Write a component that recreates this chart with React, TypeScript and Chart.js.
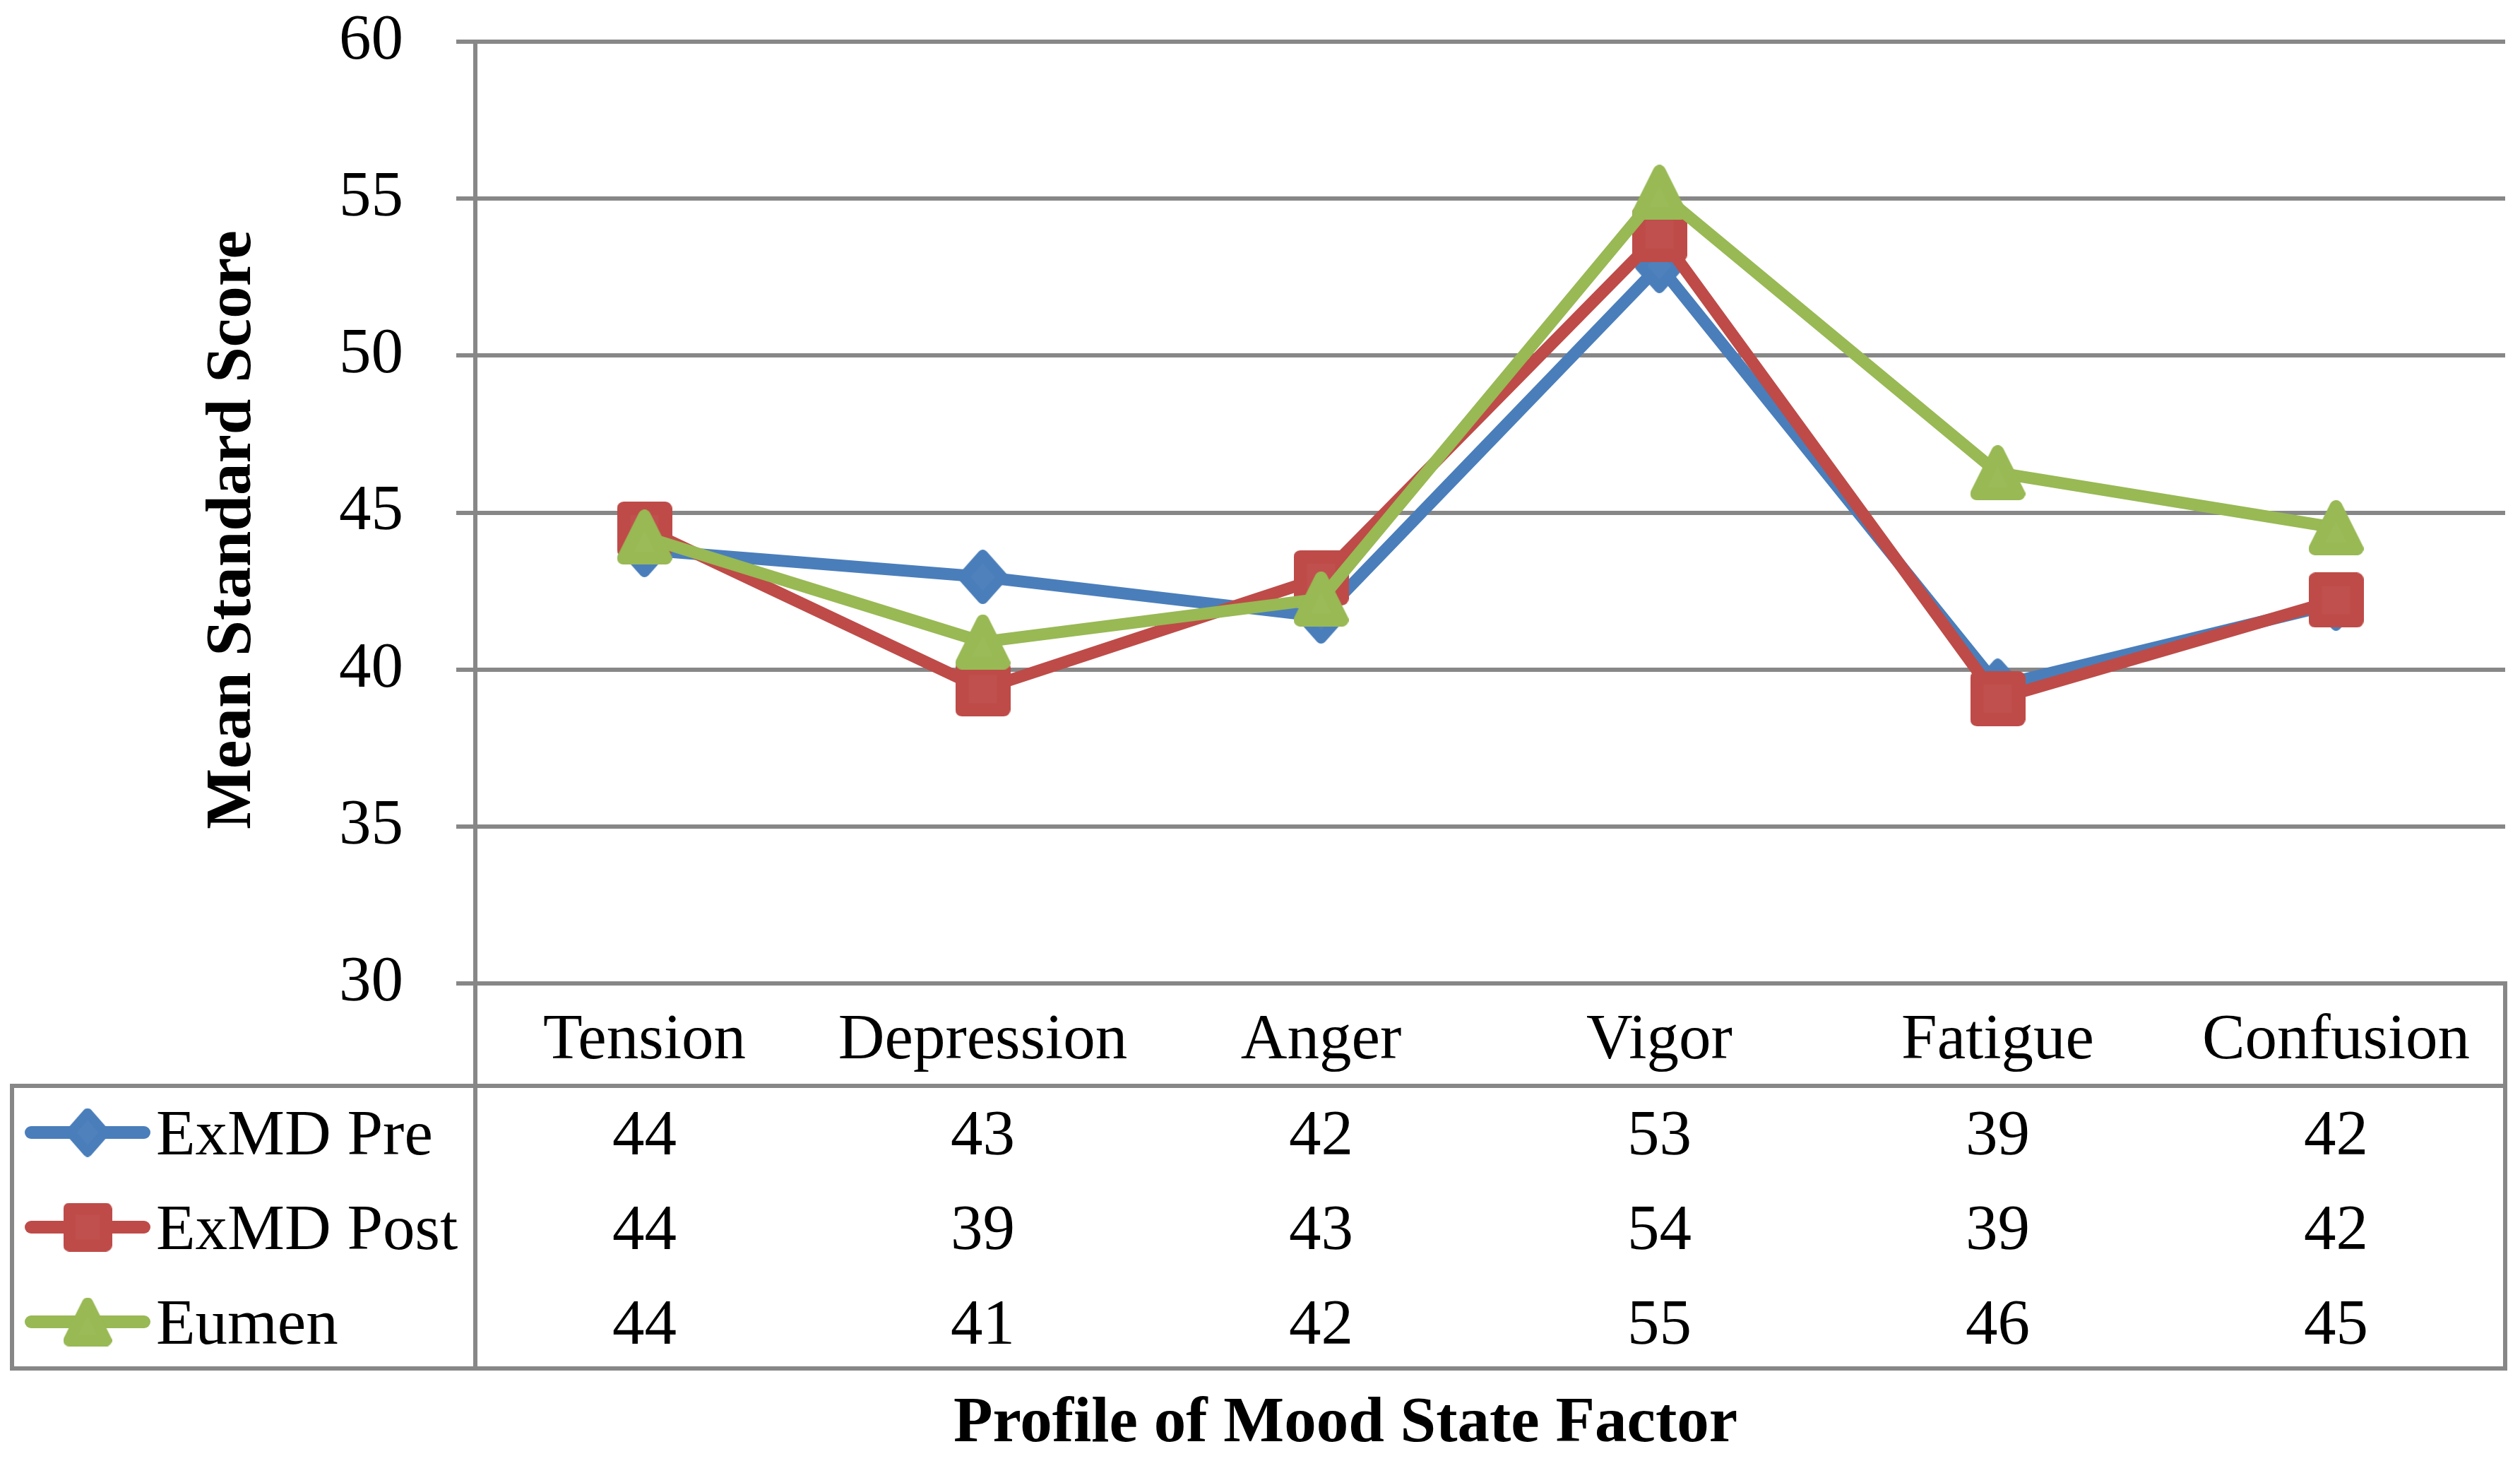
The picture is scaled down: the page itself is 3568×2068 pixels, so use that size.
import React, { useEffect, useRef } from 'react';
import { Chart, registerables } from 'chart.js';

Chart.register(...registerables);

// ---------- data ----------
const categories = ['Tension', 'Depression', 'Anger', 'Vigor', 'Fatigue', 'Confusion'];
const seriesNames = ['ExMD Pre', 'ExMD Post', 'Eumen'];
const exmdPre = [43.81, 42.95, 41.69, 52.86, 39.48, 42.1];
const exmdPost = [44.47, 39.38, 42.92, 53.86, 39.07, 42.21];
const eumen = [44.22, 40.88, 42.25, 55.2, 46.27, 44.52];
const yMin = 30;
const yMax = 60;
const yStep = 5;
const xTitle = 'Profile of Mood State Factor';
const yTitle = 'Mean Standard Score';

// ---------- styles ----------
const FONT = "'Liberation Serif', 'Times New Roman', Times, serif";
const FS = 91;
const GRID = '#878787';
const LINE_COLORS = ['#4A7EBB', '#BE4B48', '#98B954'];
const FILL_COLORS = ['#4F81BD', '#C0504D', '#9BBB59'];

type Shape = 'diamond' | 'square' | 'triangle';

function makeMarker(shape: Shape, fill: string, stroke: string, w: number, h: number, lw: number) {
  const c = document.createElement('canvas');
  c.width = Math.round(w);
  c.height = Math.round(h);
  const g = c.getContext('2d')!;
  const W = c.width;
  const H = c.height;
  const i = lw / 2;
  g.beginPath();
  if (shape === 'diamond') {
    g.moveTo(W / 2, i);
    g.lineTo(W - i, H / 2);
    g.lineTo(W / 2, H - i);
    g.lineTo(i, H / 2);
  } else if (shape === 'square') {
    g.moveTo(i, i);
    g.lineTo(W - i, i);
    g.lineTo(W - i, H - i);
    g.lineTo(i, H - i);
  } else {
    g.moveTo(W / 2, i);
    g.lineTo(W - i, H - i);
    g.lineTo(i, H - i);
  }
  g.closePath();
  g.fillStyle = fill;
  g.fill();
  g.lineJoin = 'round';
  g.lineWidth = lw;
  g.strokeStyle = stroke;
  g.stroke();
  return c;
}

export default function App() {
  const ref = useRef<HTMLCanvasElement | null>(null);

  useEffect(() => {
    if (!ref.current) return;
    const shapes: Shape[] = ['diamond', 'square', 'triangle'];
    const sizes = [
      [70, 77, 15],
      [78, 78, 19],
      [78, 78, 18],
    ];
    const markers = shapes.map((s, k) =>
      makeMarker(s, FILL_COLORS[k], LINE_COLORS[k], sizes[k][0], sizes[k][1], sizes[k][2])
    );
    const legendMarkers = shapes.map((s, k) =>
      makeMarker(s, FILL_COLORS[k], LINE_COLORS[k], sizes[k][0] * 0.89, sizes[k][1] * 0.89, sizes[k][2] * 0.89)
    );
    const allSeries = [exmdPre, exmdPost, eumen];

    const tablePlugin = {
      id: 'dataTablePlugin',
      afterDraw(chart: any) {
        const ctx: CanvasRenderingContext2D = chart.ctx;
        const xs = chart.scales.x;
        const area = chart.chartArea;
        const tTop = 1537;
        const tBot = 1937;
        const tLeft = 17;
        ctx.save();
        // table lines
        ctx.strokeStyle = GRID;
        ctx.lineWidth = 6;
        ctx.lineCap = 'square';
        ctx.lineJoin = 'miter';
        ctx.beginPath();
        ctx.moveTo(area.right, area.bottom);
        ctx.lineTo(area.right, tBot);
        ctx.lineTo(tLeft, tBot);
        ctx.lineTo(tLeft, tTop);
        ctx.lineTo(area.right, tTop);
        ctx.stroke();
        ctx.beginPath();
        ctx.moveTo(area.left, area.bottom);
        ctx.lineTo(area.left, tBot);
        ctx.stroke();

        // values & legend
        const rowY = [1610, 1744, 1878];
        ctx.fillStyle = '#000';
        ctx.font = `${FS}px ${FONT}`;
        ctx.textBaseline = 'middle';
        allSeries.forEach((vals, r) => {
          ctx.textAlign = 'center';
          vals.forEach((v, i) => {
            ctx.fillText(v.toFixed(0), xs.getPixelForValue(i), rowY[r]);
          });
          // legend key
          const ly = rowY[r] - 7;
          ctx.strokeStyle = LINE_COLORS[r];
          ctx.lineWidth = 18;
          ctx.lineCap = 'round';
          ctx.beginPath();
          ctx.moveTo(44, ly);
          ctx.lineTo(204, ly);
          ctx.stroke();
          const m = legendMarkers[r];
          ctx.drawImage(m, 124 - m.width / 2, ly - m.height / 2);
          ctx.textAlign = 'left';
          ctx.fillText(seriesNames[r], 221, rowY[r]);
        });

        // axis titles
        ctx.font = `bold ${FS}px ${FONT}`;
        ctx.textAlign = 'center';
        ctx.textBaseline = 'alphabetic';
        ctx.fillText(xTitle, 1905, 2040);
        ctx.translate(330, 750);
        ctx.rotate(-Math.PI / 2);
        ctx.textBaseline = 'middle';
        ctx.fillText(yTitle, 0, 0);
        ctx.restore();
      },
    };

    const chart = new Chart(ref.current, {
      type: 'line',
      data: {
        labels: categories,
        datasets: allSeries.map((vals, k) => ({
          label: seriesNames[k],
          data: vals,
          borderColor: LINE_COLORS[k],
          backgroundColor: FILL_COLORS[k],
          borderWidth: 17,
          borderJoinStyle: 'round',
          borderCapStyle: 'round',
          tension: 0,
          fill: false,
          pointStyle: markers[k] as any,
          pointRadius: 38,
          pointHoverRadius: 38,
          pointBorderWidth: 0,
          order: 3 - k,
        })),
      },
      options: {
        animation: false,
        responsive: false,
        devicePixelRatio: 1,
        events: [],
        layout: { autoPadding: false, padding: { top: 59, right: 21, left: 0, bottom: 0 } },
        plugins: {
          legend: { display: false },
          tooltip: { enabled: false },
          title: { display: false },
        },
        scales: {
          x: {
            type: 'category',
            offset: true,
            grid: { display: false, drawTicks: false },
            border: { display: false },
            ticks: {
              font: { family: FONT, size: FS },
              color: '#000',
              padding: 27,
              maxRotation: 0,
              minRotation: 0,
              autoSkip: false,
            },
            afterFit: (s: any) => {
              s.height = 676;
              s.paddingLeft = 0;
              s.paddingRight = 0;
            },
          },
          y: {
            min: yMin,
            max: yMax,
            ticks: {
              stepSize: yStep,
              font: { family: FONT, size: FS },
              color: '#000',
              padding: 75,
            },
            grid: { color: GRID, lineWidth: 6, tickLength: 27, drawTicks: true },
            border: { display: true, color: GRID, width: 6 },
            afterFit: (s: any) => {
              s.width = 673;
              s.paddingTop = 0;
              s.paddingBottom = 0;
            },
          },
        },
      },
      plugins: [tablePlugin],
    } as any);

    return () => chart.destroy();
  }, []);

  return (
    <div style={{ position: 'fixed', left: 0, top: 0, width: 3568, height: 2068, background: '#fff' }}>
      <canvas ref={ref} width={3568} height={2068} />
    </div>
  );
}
